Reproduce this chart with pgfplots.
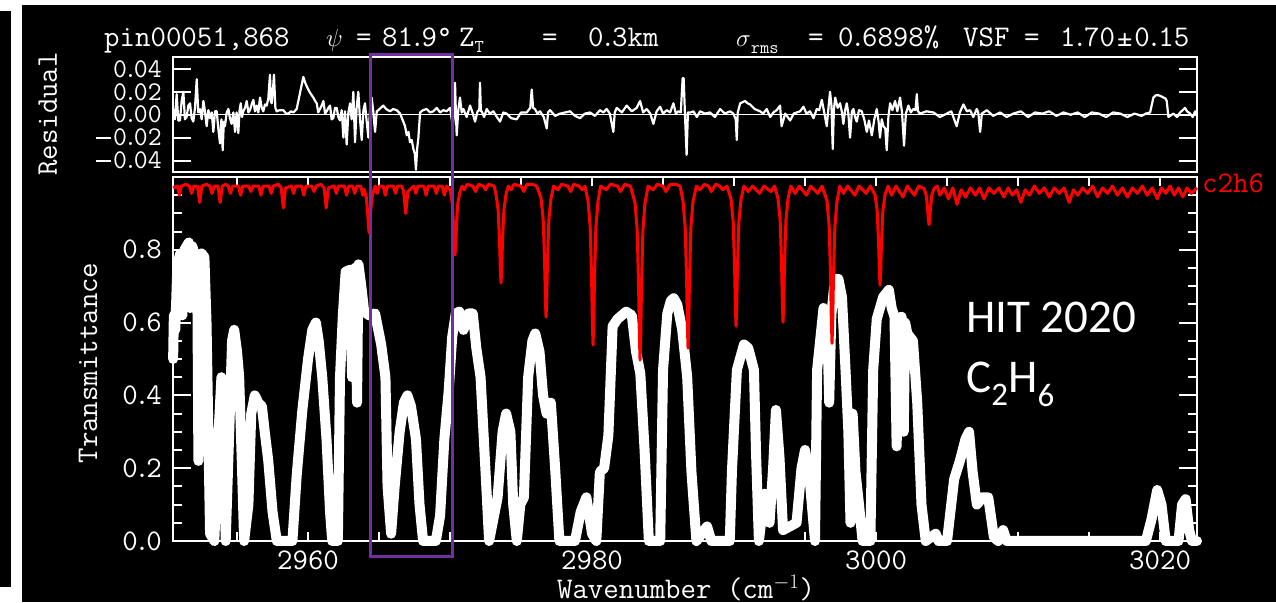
\documentclass[border=0pt]{standalone}
\usepackage{pgfplots}
\pgfplotsset{compat=1.18}
\usepackage{fontspec}
\newfontfamily\calib{Carlito}
\definecolor{boxpurple}{RGB}{112,48,160}
\newcommand{\idl}{\fontsize{30pt}{36pt}\selectfont\ttfamily}
\newcommand{\idls}{\fontsize{27pt}{30pt}\selectfont\ttfamily}
\newcommand{\p}{\kern-3.5pt.\kern-3.5pt}
\newcommand{\mn}{\rule[7pt]{15pt}{1.6pt}\kern2pt}
\begin{document}
\begin{tikzpicture}[x=1pt,y=1pt]
\path[use as bounding box] (0,0) rectangle (1276,602);
\fill[white] (0,0) rectangle (1276,602);
\fill[black] (22,0) rectangle (1276,597);
\fill[black] (0,15) rectangle (11,591);

% ---------------- residual panel ----------------
\begin{axis}[
  at={(173pt,430pt)}, anchor=south west, scale only axis,
  width=1024pt, height=114.5pt,
  xmin=2950.49, xmax=3022.6, ymin=-0.05, ymax=0.05,
  scaled y ticks=false, scaled x ticks=false,
  axis line style={white, line width=2pt},
  tick style={white, line width=2pt},
  xtick=\empty, minor xtick={2955,2960,2965,2970,2975,2980,2985,2990,2995,3000,3005,3010,3015,3020},
  ytick={-0.04,-0.02,0,0.02,0.04},
  yticklabels={\mn0\p04,\mn0\p02,0\p00,0\p02,0\p04},
  major tick length=18pt, minor tick length=6pt,
  ticklabel style={font=\idls, text=white},
  yticklabel style={anchor=east, inner sep=0pt, xshift=-11pt},
]
\addplot[white, line width=1.5pt] coordinates {(2950.49,0) (3022.6,0)};
\addplot[white, line width=2.2pt, line join=round] coordinates {
(2950.51,0.005) (2950.62,-0.004) (2950.75,0.018) (2950.86,-0.005) (2950.98,-0.005) (2951.10,0.012) (2951.22,0.02) (2951.33,-0.004) (2951.45,-0.002) (2951.57,0.008) (2951.69,0.01) (2951.80,-0.003) (2951.92,-0.006) (2952.04,0.006) (2952.16,0.031) (2952.27,0.002) (2952.39,0.005) (2952.51,-0.004) (2952.63,0.012) (2952.75,0.002) (2952.86,-0.01) (2952.98,0.004) (2953.10,-0.003) (2953.22,0.002) (2953.33,-0.015) (2953.45,0.003) (2953.57,0.003) (2953.68,-0.012) (2953.80,-0.025) (2953.90,-0.004) (2953.99,-0.031) (2954.07,-0.006) (2954.15,-0.01) (2954.27,0.002) (2954.39,0.005) (2954.50,-0.003) (2954.62,-0.008) (2954.74,0.002) (2954.86,-0.015) (2954.97,0.002) (2955.09,-0.016) (2955.18,0.004) (2955.26,0.01) (2955.35,-0.002) (2955.44,0.003) (2955.56,0.006) (2955.68,0.012) (2955.80,0.002) (2955.91,0.004) (2956.03,0.009) (2956.15,0.013) (2956.26,0.003) (2956.38,0.008) (2956.50,0.002) (2956.62,0.015) (2956.74,0.006) (2956.85,0.003) (2956.97,0.009) (2957.09,0.008) (2957.20,0.014) (2957.32,0.035) (2957.38,0.012) (2957.44,0.01) (2957.52,0.02) (2957.60,0.035) (2957.70,0.006) (2957.79,0.003) (2958.00,0.004) (2958.26,0.004) (2958.45,0.001) (2958.61,0.001) (2958.80,0.003) (2958.97,0.002) (2959.20,0.005) (2959.45,0.02) (2959.67,0.033) (2959.80,0.028) (2959.90,0.025) (2960.10,0.02) (2960.37,0.015) (2960.50,0.012) (2960.61,0.01) (2960.72,0.002) (2960.84,0.005) (2960.96,0.008) (2961.08,0.012) (2961.20,0.001) (2961.31,0.003) (2961.43,0.006) (2961.55,0.008) (2961.66,-0.004) (2961.78,-0.003) (2961.90,0.006) (2962.02,0.006) (2962.13,-0.002) (2962.25,-0.005) (2962.37,0.004) (2962.49,-0.02) (2962.60,0.003) (2962.72,-0.026) (2962.84,0.002) (2962.96,0.01) (2963.07,-0.004) (2963.19,0.02) (2963.31,-0.024) (2963.42,0.006) (2963.54,0.02) (2963.66,-0.004) (2963.78,-0.022) (2963.90,0.004) (2964.01,0.01) (2964.13,-0.006) (2964.25,-0.02) (2964.36,0.003) (2964.48,0.015) (2964.60,0.002) (2964.72,-0.015) (2964.84,0.003) (2964.95,0.004) (2965.12,0.006) (2965.30,0.008) (2965.50,0.005) (2965.77,0.003) (2966.00,0.005) (2966.24,0.004) (2966.48,0.001) (2966.71,-0.006) (2966.83,-0.01) (2966.95,-0.018) (2967.07,-0.015) (2967.18,-0.024) (2967.30,-0.022) (2967.42,-0.03) (2967.52,-0.034) (2967.60,-0.048) (2967.68,-0.03) (2967.77,-0.02) (2967.89,0.002) (2968.10,0.004) (2968.35,0.005) (2968.60,0.002) (2968.82,0.003) (2969.06,0.006) (2969.30,0.002) (2969.53,0.004) (2969.76,0.003) (2970.00,0.006) (2970.19,-0.01) (2970.30,0.002) (2970.35,0.028) (2970.41,0.002) (2970.47,-0.018) (2970.58,0.004) (2970.70,0.015) (2970.82,0.002) (2970.94,0.005) (2971.17,-0.002) (2971.41,0.008) (2971.58,0.002) (2971.76,-0.006) (2971.94,0.003) (2972.06,0.004) (2972.11,0.028) (2972.17,0.003) (2972.23,0.003) (2972.40,-0.002) (2972.58,0.005) (2972.80,0.001) (2973.05,0.003) (2973.30,-0.002) (2973.52,-0.006) (2973.75,0.002) (2973.99,0.001) (2974.30,-0.003) (2974.69,-0.004) (2975.00,0.002) (2975.40,0.002) (2975.65,0.006) (2975.75,0.022) (2975.85,0.006) (2975.98,0.005) (2976.15,0.001) (2976.34,0.003) (2976.60,-0.002) (2976.81,-0.012) (2976.90,0.002) (2977.04,0.004) (2977.40,-0.001) (2977.75,0.001) (2978.10,0.002) (2978.45,0.003) (2978.80,-0.001) (2979.15,-0.003) (2979.50,0.001) (2979.86,0.002) (2980.20,-0.001) (2980.56,0.004) (2980.80,0.002) (2981.03,0.005) (2981.25,0.001) (2981.50,-0.015) (2981.60,0.002) (2981.74,0.006) (2982.10,0.002) (2982.44,0.008) (2982.80,0.003) (2983.14,0.006) (2983.38,0.012) (2983.60,0.002) (2983.85,0.005) (2984.10,0.001) (2984.32,-0.008) (2984.55,0.003) (2984.79,0.007) (2985.00,0.001) (2985.26,0.004) (2985.50,0.002) (2985.73,0.01) (2985.90,0.001) (2986.08,0.003) (2986.25,0.002) (2986.38,0.032) (2986.45,0.032) (2986.55,-0.002) (2986.66,-0.035) (2986.75,0.002)
(2986.95,0.002) (2987.14,0.003) (2987.38,-0.002) (2987.61,0.003) (2987.95,0.001) (2988.31,0.002) (2988.65,-0.002) (2989.02,0.005) (2989.35,0.001) (2989.72,0.003) (2989.95,0.001) (2990.12,-0.004) (2990.19,-0.022) (2990.26,0.002) (2990.43,0.01) (2990.60,0.011) (2990.78,0.012) (2990.95,0.01) (2991.13,0.009) (2991.45,0.005) (2991.83,0.003) (2992.05,0.001) (2992.30,0.005) (2992.55,-0.002) (2992.77,0.002) (2993.00,0.004) (2993.24,0.008) (2993.35,-0.01) (2993.60,0.001) (2993.95,-0.005) (2994.20,0.001) (2994.42,0.002) (2994.65,0.003) (2994.89,0.007) (2995.10,0.001) (2995.35,0.003) (2995.60,-0.003) (2995.82,0.005) (2996.00,0.004) (2996.18,0.013) (2996.35,0.002) (2996.53,-0.01) (2996.65,0.006) (2996.76,0.02) (2996.86,0.008) (2996.95,-0.03) (2997.03,0.004) (2997.12,0.015) (2997.30,0.006) (2997.47,0.01) (2997.60,0.002) (2997.70,-0.008) (2997.82,0.004) (2997.94,0.01) (2998.05,0.001) (2998.17,-0.02) (2998.30,0.003) (2998.41,0.005) (2998.52,-0.002) (2998.64,-0.006) (2998.80,0.004) (2998.99,0.003) (2999.17,-0.004) (2999.35,-0.015) (2999.50,-0.005) (2999.70,-0.018) (2999.88,-0.004) (3000.05,0.005) (3000.18,-0.006) (3000.28,-0.02) (3000.40,-0.004) (3000.52,-0.01) (3000.65,-0.012) (3000.75,-0.031) (3000.87,-0.002) (3000.99,0.01) (3001.15,0.004) (3001.34,0.012) (3001.50,0.003) (3001.69,0.015) (3001.83,0.002) (3001.97,-0.027) (3002.10,0.001) (3002.28,0.008) (3002.45,0.002) (3002.63,0.005) (3002.78,0.004) (3002.87,0.018) (3002.95,0.003) (3003.10,0.001) (3003.55,0.003) (3004.04,0.002) (3004.50,-0.002) (3004.98,0.001) (3005.30,0.003) (3005.68,-0.01) (3005.90,0.002) (3006.15,0.009) (3006.40,0.003) (3006.62,0.004) (3006.85,-0.002) (3007.09,0.005) (3007.20,0.002) (3007.33,-0.015) (3007.45,0.001) (3007.80,0.004) (3008.25,-0.001) (3008.74,0.002) (3009.20,-0.002) (3009.67,0.001) (3010.20,0.003) (3010.70,-0.002) (3011.20,0.002) (3011.70,0.001) (3012.20,0.003) (3012.70,-0.001) (3013.20,0.002) (3013.70,0.0) (3014.20,0.002) (3014.70,-0.002) (3015.20,0.002) (3015.70,0.001) (3016.20,-0.002) (3016.70,0.002) (3017.20,0.001) (3017.70,-0.002) (3018.20,0.001) (3018.70,-0.001) (3019.00,0.001) (3019.30,0.002) (3019.53,0.015) (3019.70,0.017) (3019.89,0.017) (3020.10,0.016) (3020.24,0.015) (3020.40,0.014) (3020.47,0.012) (3020.59,-0.002) (3020.94,0.001) (3021.20,-0.002) (3021.41,0.002) (3021.60,0.004) (3021.76,0.006) (3021.90,0.003) (3022.12,0.001) (3022.30,-0.002) (3022.47,0.003) (3022.60,0.0)
};
\end{axis}

% ---------------- transmittance panel ----------------
\begin{axis}[
  at={(173pt,61pt)}, anchor=south west, scale only axis,
  width=1024pt, height=364pt,
  xmin=2950.49, xmax=3022.6, ymin=0, ymax=1,
  clip=false, scaled x ticks=false, scaled y ticks=false,
  axis line style={white, line width=2pt},
  tick style={white, line width=2pt},
  xtick={2960,2980,3000,3020}, xticklabels={2960,2980,3000,3020},
  every major x tick/.append style={draw=none},
  minor xtick={2955,2960,2965,2970,2975,2980,2985,2990,2995,3000,3005,3010,3015,3020},
  ytick={0,0.2,0.4,0.6,0.8}, yticklabels={0\p0,0\p2,0\p4,0\p6,0\p8},
  minor ytick={0.05,0.1,0.15,0.25,0.3,0.35,0.45,0.5,0.55,0.65,0.7,0.75,0.85,0.9,0.95},
  major tick length=18pt, minor tick length=9pt,
  ticklabel style={font=\idl, text=white},
  xticklabel style={anchor=north, inner sep=0pt, yshift=-10pt},
  yticklabel style={anchor=east, inner sep=0pt, xshift=-11pt},
]
\addplot[white, line width=10pt, line join=round, line cap=round] coordinates {
(2950.50,0.50) (2950.55,0.62) (2950.65,0.58) (2950.80,0.76) (2951.00,0.79) (2951.15,0.62) (2951.30,0.80) (2951.60,0.82) (2951.70,0.64) (2951.85,0.81) (2952.05,0.78) (2952.20,0.72) (2952.28,0.22) (2952.36,0.70) (2952.50,0.79) (2952.70,0.78) (2952.85,0.60) (2953.00,0.25) (2953.10,0.02) (2953.40,0.00) (2953.70,0.30) (2953.90,0.45) (2954.05,0.30) (2954.20,0.00) (2954.45,0.30) (2954.65,0.55) (2954.80,0.58) (2955.00,0.52) (2955.15,0.45) (2955.35,0.20) (2955.50,0.00) (2955.80,0.10) (2956.00,0.35) (2956.25,0.40) (2956.50,0.38) (2956.75,0.37) (2956.95,0.30) (2957.20,0.22) (2957.50,0.08) (2957.80,0.00) (2958.90,0.00) (2959.20,0.18) (2959.60,0.36) (2960.00,0.50) (2960.30,0.58) (2960.55,0.60) (2960.75,0.55) (2961.00,0.45) (2961.30,0.28) (2961.55,0.08) (2961.70,0.00) (2962.10,0.00) (2962.25,0.45) (2962.45,0.62) (2962.65,0.74) (2962.95,0.745) (2963.10,0.45) (2963.20,0.74) (2963.30,0.75) (2963.45,0.38) (2963.55,0.76) (2963.75,0.70) (2963.95,0.63) (2964.30,0.62) (2964.72,0.625) (2965.15,0.54) (2965.45,0.45) (2965.60,0.15) (2965.85,0.02) (2966.10,0.15) (2966.45,0.30) (2966.75,0.38) (2967.00,0.40) (2967.25,0.37) (2967.60,0.28) (2967.85,0.10) (2968.10,0.00) (2969.00,0.00) (2969.30,0.07) (2969.60,0.28) (2969.90,0.41) (2970.15,0.56) (2970.40,0.625) (2970.65,0.63) (2970.95,0.58) (2971.30,0.625) (2971.60,0.625) (2971.85,0.53) (2972.15,0.45) (2972.50,0.19) (2972.75,0.00) (2973.00,0.05) (2973.35,0.12) (2973.70,0.30) (2973.95,0.35) (2974.25,0.30) (2974.45,0.10) (2974.70,0.00) (2974.95,0.10) (2975.20,0.12) (2975.50,0.45) (2975.80,0.55) (2976.00,0.57) (2976.30,0.52) (2976.55,0.40) (2976.80,0.35) (2977.10,0.38) (2977.40,0.20) (2977.70,0.00) (2978.80,0.00) (2979.20,0.08) (2979.60,0.12) (2980.00,0.02) (2980.30,0.00) (2980.55,0.19) (2980.85,0.20) (2981.15,0.29) (2981.45,0.59) (2981.80,0.61) (2982.40,0.63) (2982.80,0.62) (2983.10,0.52) (2983.40,0.46) (2983.70,0.25) (2984.00,0.00) (2984.80,0.00) (2985.00,0.47) (2985.30,0.625) (2985.55,0.66) (2985.75,0.667) (2986.00,0.65) (2986.35,0.58) (2986.70,0.45) (2987.00,0.19) (2987.35,0.00) (2988.10,0.04) (2988.40,0.00) (2989.70,0.00) (2989.85,0.19) (2990.20,0.47) (2990.70,0.54) (2991.00,0.53) (2991.40,0.47) (2991.55,0.24) (2991.75,0.00) (2992.15,0.13) (2992.50,0.05) (2992.75,0.20) (2992.95,0.36) (2993.20,0.23) (2993.45,0.03) (2994.40,0.05) (2994.75,0.20) (2995.00,0.25) (2995.30,0.18) (2995.70,0.00) (2995.85,0.47) (2996.30,0.64) (2996.55,0.62) (2996.70,0.38) (2996.85,0.62) (2997.10,0.72) (2997.35,0.72) (2997.60,0.67) (2997.85,0.47) (2998.05,0.30) (2998.20,0.05) (2998.35,0.35) (2998.55,0.19) (2998.80,0.10) (2999.05,0.00) (2999.60,0.00) (2999.80,0.47) (3000.05,0.61) (3000.50,0.67) (3000.90,0.69) (3001.10,0.64) (3001.30,0.616) (3001.45,0.26) (3001.60,0.60) (3001.80,0.616) (3001.95,0.30) (3002.05,0.60) (3002.20,0.57) (3002.60,0.55) (3002.90,0.38) (3003.20,0.10) (3003.50,0.00) (3004.20,0.02) (3004.40,0.00) (3005.00,0.00) (3005.50,0.17) (3005.90,0.22) (3006.30,0.28) (3006.55,0.30) (3006.80,0.19) (3007.10,0.10) (3007.50,0.12) (3007.90,0.12) (3008.30,0.01) (3008.60,0.00) (3008.95,0.03) (3009.20,0.00) (3019.00,0.00) (3019.40,0.06) (3019.80,0.14) (3020.10,0.10) (3020.40,0.00) (3021.30,0.00) (3021.55,0.10) (3021.80,0.115) (3022.05,0.03) (3022.25,0.00) (3022.60,0.00)
};
\addplot[red, line width=3pt, line join=round] coordinates {
(2950.50,0.97) (2950.80,0.975) (2950.94,0.95) (2951.08,0.975) (2951.40,0.98) (2951.65,0.975) (2951.80,0.955) (2951.95,0.975) (2952.22,0.975) (2952.37,0.93) (2952.52,0.975) (2952.85,0.98) (2953.09,0.975) (2953.24,0.955) (2953.39,0.975) (2953.66,0.975) (2953.81,0.93) (2953.96,0.975) (2954.20,0.98) (2954.38,0.975) (2954.53,0.955) (2954.68,0.975) (2955.10,0.975) (2955.25,0.95) (2955.40,0.975) (2955.82,0.975) (2955.97,0.96) (2956.12,0.975) (2956.53,0.975) (2956.68,0.95) (2956.83,0.975) (2957.25,0.975) (2957.40,0.955) (2957.55,0.975) (2957.90,0.98) (2958.11,0.97) (2958.26,0.915) (2958.41,0.97) (2958.83,0.975) (2958.98,0.955) (2959.13,0.975) (2959.55,0.975) (2959.70,0.95) (2959.85,0.975) (2960.27,0.975) (2960.42,0.96) (2960.57,0.975) (2960.90,0.98) (2961.13,0.97) (2961.28,0.915) (2961.43,0.97) (2961.84,0.975) (2961.99,0.955) (2962.14,0.975) (2962.56,0.975) (2962.71,0.95) (2962.86,0.975) (2963.14,0.975) (2963.29,0.955) (2963.44,0.975) (2963.71,0.975) (2963.86,0.95) (2963.95,0.966)
(2964.10,0.945) (2964.20,0.902) (2964.25,0.867) (2964.30,0.847) (2964.35,0.867) (2964.40,0.902) (2964.50,0.945) (2964.65,0.966)
(2964.72,0.975) (2964.87,0.955) (2965.02,0.975) (2965.29,0.975) (2965.44,0.95) (2965.59,0.975) (2966.01,0.975) (2966.16,0.955) (2966.31,0.975) (2966.60,0.975) (2966.73,0.96) (2966.88,0.90) (2967.03,0.96) (2967.44,0.975) (2967.59,0.955) (2967.74,0.975) (2968.16,0.975) (2968.31,0.95) (2968.46,0.975) (2968.88,0.975) (2969.03,0.955) (2969.18,0.975) (2969.45,0.975) (2969.60,0.95) (2969.75,0.975) (2970.00,0.966)
(2970.15,0.929) (2970.25,0.866) (2970.30,0.815) (2970.35,0.786) (2970.40,0.815) (2970.45,0.866) (2970.55,0.929) (2970.70,0.960)
(2970.85,0.975) (2971.00,0.965) (2971.20,0.98) (2971.60,0.975) (2971.80,0.96) (2972.00,0.98) (2972.35,0.975) (2972.50,0.965) (2972.70,0.98) (2973.10,0.975)
(2973.24,0.952) (2973.39,0.908) (2973.49,0.820) (2973.54,0.749) (2973.59,0.709) (2973.64,0.749) (2973.69,0.820) (2973.79,0.908) (2973.94,0.952)
(2974.10,0.975) (2974.30,0.965) (2974.50,0.98) (2975.00,0.975) (2975.20,0.96) (2975.40,0.98) (2975.80,0.98) (2976.10,0.975)
(2976.41,0.942) (2976.56,0.883) (2976.66,0.765) (2976.71,0.669) (2976.76,0.615) (2976.81,0.669) (2976.86,0.765) (2976.96,0.883) (2977.11,0.942)
(2977.30,0.975) (2977.60,0.965) (2977.85,0.98) (2978.30,0.975) (2978.50,0.96) (2978.70,0.98) (2979.10,0.975) (2979.30,0.965) (2979.50,0.975)
(2979.72,0.934) (2979.87,0.863) (2979.97,0.719) (2980.02,0.603) (2980.07,0.538) (2980.12,0.603) (2980.17,0.719) (2980.27,0.863) (2980.42,0.934)
(2980.60,0.975) (2981.00,0.965) (2981.30,0.98) (2981.80,0.975) (2982.00,0.96) (2982.30,0.98) (2982.70,0.975)
(2983.03,0.929) (2983.18,0.852) (2983.28,0.695) (2983.33,0.568) (2983.38,0.497) (2983.43,0.568) (2983.48,0.695) (2983.58,0.852) (2983.73,0.929)
(2983.95,0.975) (2984.30,0.965) (2984.60,0.98) (2985.00,0.975) (2985.20,0.96) (2985.50,0.98) (2985.90,0.98) (2986.20,0.975)
(2986.41,0.933) (2986.56,0.861) (2986.66,0.715) (2986.71,0.597) (2986.76,0.530) (2986.81,0.597) (2986.86,0.715) (2986.96,0.861) (2987.11,0.933)
(2987.35,0.975) (2987.60,0.965) (2987.90,0.98) (2988.20,0.975) (2988.40,0.96) (2988.70,0.98) (2989.00,0.975) (2989.20,0.965) (2989.50,0.975)
(2989.79,0.939) (2989.94,0.877) (2990.04,0.750) (2990.09,0.648) (2990.14,0.590) (2990.19,0.648) (2990.24,0.750) (2990.34,0.877) (2990.49,0.939)
(2990.70,0.975) (2991.00,0.96) (2991.30,0.975) (2991.80,0.955) (2992.10,0.975) (2992.60,0.96) (2992.85,0.975)
(2993.10,0.940) (2993.25,0.880) (2993.35,0.756) (2993.40,0.657) (2993.45,0.601) (2993.50,0.657) (2993.55,0.756) (2993.65,0.880) (2993.80,0.940)
(2994.00,0.975) (2994.30,0.955) (2994.60,0.975) (2995.10,0.95) (2995.40,0.975) (2995.90,0.955) (2996.20,0.975)
(2996.55,0.934) (2996.70,0.864) (2996.80,0.722) (2996.85,0.608) (2996.90,0.543) (2996.95,0.608) (2997.00,0.722) (2997.10,0.864) (2997.25,0.934)
(2997.45,0.975) (2997.70,0.955) (2998.00,0.975) (2998.50,0.95) (2998.80,0.975) (2999.30,0.955) (2999.60,0.975)
(2999.93,0.951) (3000.08,0.907) (3000.18,0.817) (3000.23,0.744) (3000.28,0.703) (3000.33,0.744) (3000.38,0.817) (3000.48,0.907) (3000.63,0.951)
(3000.85,0.975) (3001.10,0.95) (3001.40,0.975) (3001.90,0.945) (3002.20,0.975) (3002.70,0.95) (3003.00,0.975)
(3003.38,0.968) (3003.53,0.951) (3003.63,0.915) (3003.68,0.885) (3003.73,0.869) (3003.78,0.885) (3003.83,0.915) (3003.93,0.951) (3004.08,0.968)
(3004.30,0.975) (3004.50,0.95) (3004.80,0.97) (3005.10,0.94) (3005.40,0.97) (3005.70,0.925) (3006.00,0.965) (3006.30,0.945) (3006.65,0.97) (3007.00,0.95) (3007.30,0.97) (3007.60,0.94) (3007.95,0.97) (3008.30,0.955) (3008.65,0.97) (3009.00,0.945) (3009.30,0.97) (3009.60,0.95) (3009.90,0.965) (3010.20,0.93) (3010.50,0.965) (3010.80,0.95) (3011.15,0.975) (3011.50,0.955) (3011.85,0.97) (3012.20,0.945) (3012.55,0.97) (3012.90,0.955) (3013.25,0.97) (3013.60,0.93) (3013.90,0.965) (3014.20,0.95) (3014.55,0.97) (3014.90,0.955) (3015.25,0.975) (3015.60,0.945) (3015.95,0.97) (3016.30,0.955) (3016.65,0.975) (3017.00,0.95) (3017.35,0.97) (3017.70,0.945) (3018.05,0.97) (3018.40,0.955) (3018.75,0.975) (3019.10,0.95) (3019.45,0.97) (3019.80,0.94) (3020.10,0.97) (3020.40,0.955) (3020.70,0.975) (3021.00,0.95) (3021.30,0.97) (3021.60,0.945) (3021.90,0.97) (3022.20,0.955) (3022.60,0.97)
};
\end{axis}

% purple highlight box
\draw[boxpurple, line width=3pt] (370,45) rectangle (452.5,547);

% texts
\begin{scope}[every node/.style={text=white, inner sep=0pt, font=\idl}]
\node[anchor=base west] at (104,555) {pin00051,868};
\node[anchor=base west] at (326,555) {$\psi$};
\node[anchor=base west] at (356,555) {=};
\node[anchor=base west] at (382,555) {81\p9°};
\node[anchor=base west] at (459,555) {Z\raisebox{-6pt}{\fontsize{18pt}{20pt}\selectfont T}};
\node[anchor=base west] at (542,555) {=};
\node[anchor=base west] at (588,555) {0\p3km};
\node[anchor=base west] at (736,555) {$\sigma$\raisebox{-7pt}{\fontsize{18pt}{20pt}\selectfont rms}};
\node[anchor=base west] at (808,555) {=};
\node[anchor=base west] at (838,555) {0\p6898\%};
\node[anchor=base west] at (963,555) {VSF};
\node[anchor=base west] at (1024,555) {=};
\node[anchor=base west] at (1060,555) {1\p70\kern2pt±\kern2pt0\p15};
\node[rotate=90] at (48,488) {Residual};
\node[rotate=90] at (88,239) {Transmittance};
\node[anchor=base] at (686,4) {Wavenumber (cm$^{-1}$)};
\node[anchor=base west, text=red] at (1202,409) {c2h6};
\end{scope}
\node[anchor=base west, text=white, inner sep=0pt, font=\calib\fontsize{47pt}{52pt}\selectfont] at (966,269) {HIT 2020};
\node[anchor=base west, text=white, inner sep=0pt, font=\calib\fontsize{47pt}{52pt}\selectfont] at (966,209) {C\textsubscript{2}H\textsubscript{6}};
\end{tikzpicture}
\end{document}
